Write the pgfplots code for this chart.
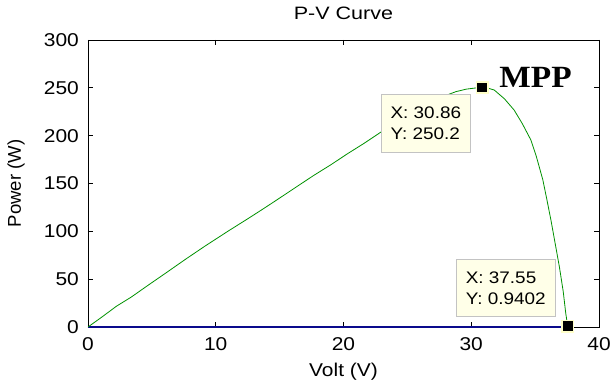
\documentclass[border=0pt]{standalone}
\usepackage{fontspec}
\setmainfont{Liberation Sans}[FakeStretch=1.13]
\newfontfamily\plainsans{Liberation Sans}
\newfontfamily\titlefont{Liberation Sans}[FakeStretch=1.2]
\newfontfamily\mppfont{Liberation Serif}[FakeStretch=1.08]
\usepackage{pgfplots}
\pgfplotsset{compat=1.18}

\definecolor{pvgreen}{RGB}{0,145,0}
\definecolor{ivblue}{RGB}{10,10,140}
\definecolor{tipfill}{RGB}{255,255,232}
\definecolor{tipborder}{RGB}{195,195,195}
\definecolor{markrim}{RGB}{255,255,200}

\tikzset{tip/.style={fill=tipfill, draw=tipborder, line width=0.8bp, align=left,
    inner sep=0pt, font=\fontsize{16.8}{20.7}\selectfont}}

% P-V characteristic of the module
\pgfplotstableread{
V P
0 0
1.2 11.5
2.2 21.5
3.4 31.4
4.7 43.6
6.1 56.5
7.6 70.5
9.15 84.5
11.0 100.5
12.55 113.5
13.6 122.5
14.8 133.0
16.6 149.0
17.7 158.7
19.0 169.5
20.3 181
21.6 191.9
22.9 203.5
24.0 213
25.0 221.5
26.0 229.5
27.0 236.5
28.0 242
28.8 246
29.6 248.6
30.3 249.8
30.86 250.2
31.4 249.3
31.8 247.7
32.6 238.5
33.36 226.7
34.0 212.5
34.67 195.4
35.1 178
35.6 154
35.9 134.5
36.24 111.6
36.6 85
36.9 62.8
37.2 37
37.4 14
37.55 0.94
}\pvdata

\begin{document}
\begin{tikzpicture}
\begin{axis}[
  name=ax,
  scale only axis,
  width=511bp, height=287bp,
  xmin=0, xmax=40, ymin=0, ymax=300,
  xtick={0,10,...,40},
  ytick={0,50,...,300},
  tick align=inside,
  major tick length=5bp,
  tick style={black, line width=0.8bp},
  axis line style={black, line width=0.9bp},
  clip=false,
  /pgf/number format/assume math mode=true,
  tick label style={font=\fontsize{18.6}{20}\selectfont},
  xticklabel style={inner sep=0pt, yshift=-10.5bp},
  yticklabel style={inner sep=0pt, xshift=-9bp},
  title={P-V Curve},
  title style={font=\titlefont\fontsize{18}{18}\selectfont, anchor=base,
    at={(axis description cs:0.5,1.0523)}},
  xlabel={Volt (V)},
  xlabel style={font=\fontsize{18.6}{20}\selectfont, anchor=base,
    at={(axis description cs:0.5,-0.1742)}},
  ylabel={Power (W)},
  ylabel style={font=\plainsans\fontsize{18.6}{20}\selectfont, anchor=center,
    at={(axis description cs:-0.1409,0.5)}},
]
% zero baseline
\addplot[ivblue, line width=2.8bp] coordinates {(0,0) (37.55,0)};
% power curve
\addplot[pvgreen, line width=0.8bp] table[x=V, y=P] {\pvdata};
% data tips
\addplot[only marks, mark=square*, mark size=5.6bp,
  mark options={fill=black, draw=markrim, line width=1.6bp}]
  coordinates {(30.86,250.2) (37.55,0.9402)};

\node[tip, anchor=north east, minimum width=89bp, minimum height=58bp,
  xshift=-11.5bp, yshift=-6.5bp] at (axis cs:30.86,250.2)
  {X: 30.86\\Y: 250.2};
\node[tip, anchor=south east, minimum width=99bp, minimum height=57bp,
  xshift=-12bp, yshift=9bp] at (axis cs:37.55,0.9402)
  {X: 37.55\\Y: 0.9402};
\node[anchor=base west, xshift=17bp, inner sep=0pt,
  font=\mppfont\bfseries\fontsize{31}{31}\selectfont]
  at (axis cs:30.86,250.2) {MPP};
\end{axis}
\pgfresetboundingbox
\path[use as bounding box] ([shift={(-88bp,-56bp)}]ax.south west)
  rectangle ([shift={(523bp,327bp)}]ax.south west);
\end{tikzpicture}
\end{document}
